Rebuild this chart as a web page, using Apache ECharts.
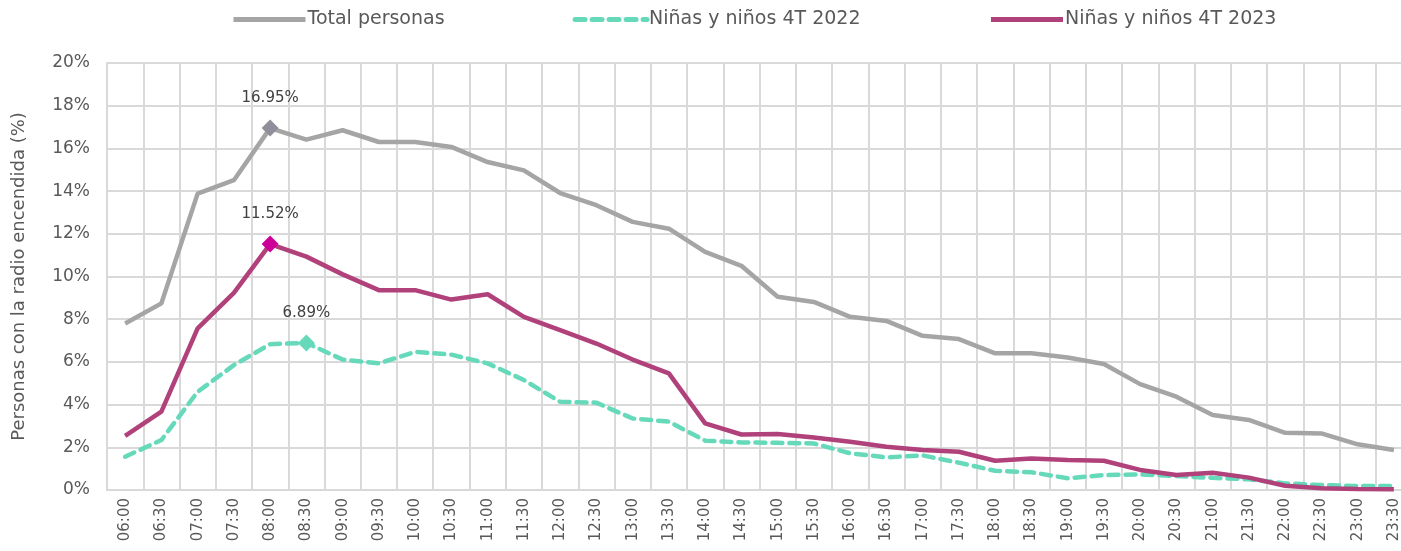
<!DOCTYPE html>
<html>
<head>
<meta charset="utf-8">
<script src="https://cdn.jsdelivr.net/npm/echarts@6/dist/echarts.min.js"></script>
<style>
html,body{margin:0;padding:0;background:#fff;}
#c{width:1401px;height:551px;}
</style>
</head>
<body>
<div id="c"></div>
<script>
const categories = ['06:00','06:30','07:00','07:30','08:00','08:30','09:00','09:30','10:00','10:30','11:00','11:30','12:00','12:30','13:00','13:30','14:00','14:30','15:00','15:30','16:00','16:30','17:00','17:30','18:00','18:30','19:00','19:30','20:00','20:30','21:00','21:30','22:00','22:30','23:00','23:30'];
const totalPersonas = [7.80,8.74,13.88,14.51,16.95,16.41,16.85,16.30,16.30,16.07,15.36,14.97,13.91,13.34,12.56,12.24,11.15,10.50,9.05,8.81,8.11,7.92,7.22,7.07,6.40,6.40,6.21,5.90,4.96,4.37,3.51,3.28,2.68,2.65,2.14,1.87];
const ninos2022 = [1.56,2.34,4.60,5.85,6.83,6.89,6.11,5.93,6.47,6.34,5.93,5.15,4.13,4.09,3.35,3.20,2.31,2.23,2.21,2.18,1.72,1.53,1.62,1.28,0.90,0.83,0.55,0.70,0.73,0.65,0.57,0.50,0.31,0.23,0.19,0.19];
const ninos2023 = [2.54,3.67,7.57,9.23,11.52,10.93,10.10,9.36,9.36,8.92,9.17,8.11,7.49,6.86,6.11,5.46,3.12,2.60,2.62,2.46,2.26,2.03,1.87,1.79,1.37,1.48,1.40,1.37,0.94,0.70,0.81,0.58,0.20,0.08,0.05,0.03];
const seriesNames = ['Total personas','Niñas y niños 4T 2022','Niñas y niños 4T 2023'];
const yTicks = {min:0, max:20, interval:2};

const FONT = 'DejaVu Sans';
const TXT = '#595959';

function withPeak(arr, idx, color){
  return arr.map((v,i)=> i===idx ? {
    value:v, symbol:'diamond', symbolSize:17,
    itemStyle:{color:color},
    label:{show:true, position:'top', distance:14, formatter: v.toFixed(2)+'%', fontFamily:FONT, fontSize:15, color:'#404040'}
  } : {value:v, symbol:'none'});
}
function peakIdx(arr){ let m=0; arr.forEach((v,i)=>{ if(v>arr[m]) m=i; }); return m; }

const chart = echarts.init(document.getElementById('c'), null, {renderer:'canvas'});
chart.setOption({
  animation:false,
  backgroundColor:'#fff',
  textStyle:{fontFamily:FONT},
  legend:{
    top:5, left:226, itemWidth:72, itemHeight:5, itemGap:128,
    itemStyle:{opacity:0},
    lineStyle:{width:5},
    textStyle:{fontFamily:FONT, fontSize:19, color:TXT, padding:[0,0,0,-3]},
    data: seriesNames
  },
  grid:{left:107, right:-11, top:63, bottom:61, containLabel:false, outerBoundsMode:'none'},
  xAxis:{
    type:'category', data:categories, boundaryGap:true,
    axisLine:{show:true, lineStyle:{color:'#d9d9d9', width:2}},
    axisTick:{show:false},
    splitLine:{show:true, lineStyle:{color:'#d9d9d9', width:2}},
    axisLabel:{rotate:90, fontFamily:FONT, fontSize:15, color:TXT, margin:8, interval:0}
  },
  yAxis:{
    type:'value', min:yTicks.min, max:yTicks.max, interval:yTicks.interval,
    name:'Personas con la radio encendida (%)', nameLocation:'middle', nameRotate:90, nameGap:79,
    nameTextStyle:{fontFamily:FONT, fontSize:18, color:TXT},
    axisLine:{show:true, lineStyle:{color:'#d9d9d9', width:2}},
    axisTick:{show:false},
    splitLine:{show:true, lineStyle:{color:'#d9d9d9', width:2}},
    axisLabel:{formatter:'{value}%', fontFamily:FONT, fontSize:17, color:TXT, margin:17}
  },
  series:[
    {name:seriesNames[0], type:'line', data:withPeak(totalPersonas, peakIdx(totalPersonas), '#8f8f9b'),
     symbol:'none', showSymbol:true, color:'#a5a5a5', lineStyle:{width:4.5, color:'#a5a5a5'}, z:3},
    {name:seriesNames[1], type:'line', data:withPeak(ninos2022, peakIdx(ninos2022), '#66d9bb'),
     symbol:'none', showSymbol:true, color:'#66d9bb', lineStyle:{width:4.5, color:'#66d9bb', type:[10,7], cap:'round'}, z:2},
    {name:seriesNames[2], type:'line', data:withPeak(ninos2023, peakIdx(ninos2023), '#cc0099'),
     symbol:'none', showSymbol:true, color:'#b0417a', lineStyle:{width:4.5, color:'#b0417a'}, z:4}
  ]
});
</script>
</body>
</html>
